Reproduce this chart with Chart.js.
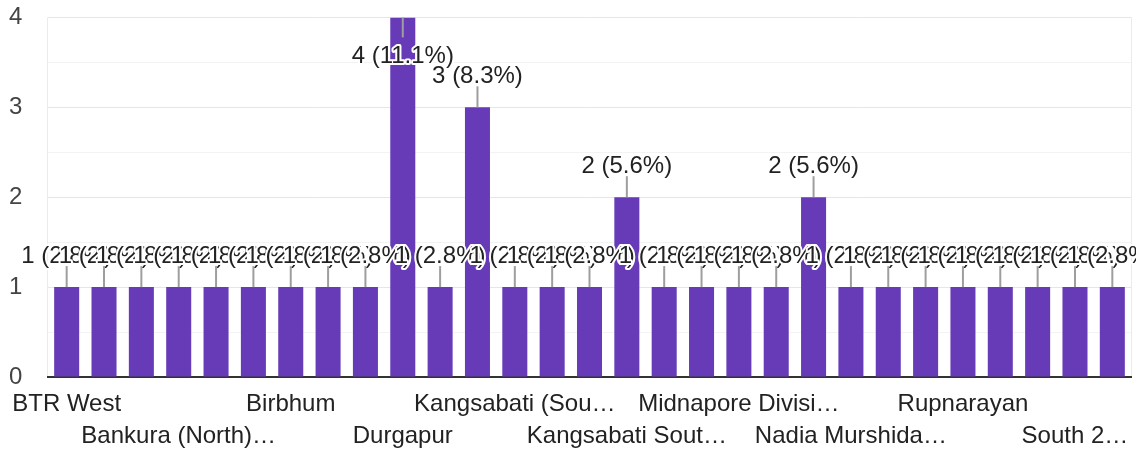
<!DOCTYPE html>
<html>
<head>
<meta charset="utf-8">
<script src="https://cdn.jsdelivr.net/npm/chart.js@4"></script>
<style>
  body { margin: 0; background: #fff; }
  #wrap { width: 1136px; height: 450px; position: relative; }
</style>
</head>
<body>
<div id="wrap"><canvas id="chart"></canvas></div>
<script>
const categories = [
  "BTR West", "Baikunthapur", "Bankura (North)", "Bankura (North) Division",
  "Bankura (South)", "Bardhaman", "Birbhum", "Burdwan", "Cooch Behar",
  "Durgapur", "Hooghly", "Jalpaiguri", "Kangsabati (South) Division",
  "Kangsabati North", "Kangsabati South", "Kangsabati South Division",
  "Kharagpur", "Kurseong", "Midnapore Division", "Murshidabad", "Nadia",
  "Nadia Murshidabad Division", "Purulia", "Raiganj", "Rupnarayan",
  "Siliguri", "Sonamukhi", "South 24 Parganas", "Sundarban"
];
const responses = [1, 1, 1, 1, 1, 1, 1, 1, 1, 4, 1, 3, 1, 1, 1, 2, 1, 1, 1, 1, 2, 1, 1, 1, 1, 1, 1, 1, 1];

// category labels that are visible on the axis (two staggered rows)
const shownTickIndex = [0, 3, 6, 9, 12, 15, 18, 21, 24, 27];
const shownTickText = [
  "BTR West", "Bankura (North)…", "Birbhum", "Durgapur", "Kangsabati (Sou…",
  "Kangsabati Sout…", "Midnapore Divisi…", "Nadia Murshida…", "Rupnarayan", "South 2…"
];
const yMax = 4;

const FONT = '"Liberation Sans", Arial, sans-serif';
const total = responses.reduce((a, b) => a + b, 0);

const barLabels = {
  id: "barLabels",
  afterDatasetsDraw(chart) {
    const { ctx, chartArea } = chart;
    const meta = chart.getDatasetMeta(0);
    ctx.save();
    ctx.font = "24px " + FONT;
    ctx.textAlign = "center";
    ctx.textBaseline = "alphabetic";
    ctx.lineJoin = "round";
    meta.data.forEach((bar, i) => {
      const v = responses[i];
      const text = v + " (" + (v / total * 100).toFixed(1) + "%)";
      const inside = bar.y - 50 < chartArea.top;
      const lineEnd = inside ? bar.y + 20 : bar.y - 21;
      const base = inside ? bar.y + 46 : bar.y - 24;
      ctx.strokeStyle = "#9e9e9e";
      ctx.lineWidth = 2;
      ctx.beginPath();
      ctx.moveTo(bar.x, bar.y);
      ctx.lineTo(bar.x, lineEnd);
      ctx.stroke();
      ctx.strokeStyle = "#fff";
      ctx.lineWidth = 4;
      ctx.strokeText(text, bar.x, base);
      ctx.fillStyle = "#222";
      ctx.fillText(text, bar.x, base);
    });
    ctx.restore();
  }
};

new Chart(document.getElementById("chart"), {
  type: "bar",
  data: {
    labels: categories,
    datasets: [{
      data: responses,
      backgroundColor: "#673ab7",
      barPercentage: 0.67,
      categoryPercentage: 1
    }]
  },
  options: {
    responsive: true,
    maintainAspectRatio: false,
    animation: false,
    layout: { padding: { left: 9, right: 5, top: 17, bottom: 0 } },
    plugins: { legend: { display: false }, tooltip: { enabled: false } },
    scales: {
      x: {
        afterFit: (s) => { s.height = 73; },
        grid: {
          drawTicks: false,
          color: (c) => (c.type === "scale" || c.index === 0) ? "#ebebeb" : "rgba(0,0,0,0)"
        },
        border: { color: "#333", width: 2 },
        ticks: {
          autoSkip: false,
          maxRotation: 0,
          padding: 11,
          color: "#222",
          font: { family: FONT, size: 24, lineHeight: 1.333 },
          callback: (value, index) => {
            const k = shownTickIndex.indexOf(index);
            if (k < 0) return "";
            return k % 2 === 0 ? shownTickText[k] : ["", shownTickText[k]];
          }
        }
      },
      y: {
        min: 0,
        max: yMax,
        afterFit: (s) => { s.width = 39; },
        grid: {
          drawTicks: false,
          color: (c) => c.tick && Number.isInteger(c.tick.value) ? "#e6e6e6" : "#f3f3f3"
        },
        border: { display: false },
        ticks: {
          stepSize: 0.5,
          crossAlign: "far",
          color: "#444",
          font: { family: FONT, size: 24 },
          callback: (v) => Number.isInteger(v) ? v : ""
        }
      }
    }
  },
  plugins: [barLabels]
});
</script>
</body>
</html>
